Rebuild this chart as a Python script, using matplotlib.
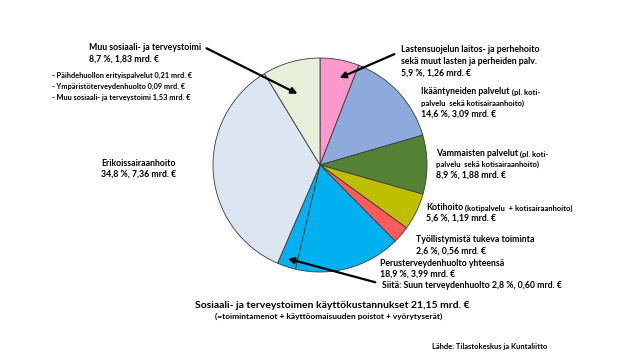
import matplotlib

matplotlib.use("Agg")
import matplotlib.pyplot as plt

plt.rcParams["font.family"] = ["Lato", "DejaVu Sans"]

# shares (%) clockwise from 12 o'clock
categories = [
    "Lastensuojelu",
    "Ikääntyneiden palvelut",
    "Vammaisten palvelut",
    "Kotihoito",
    "Työllistymistä tukeva toiminta",
    "Perusterveydenhuolto",
    "Erikoissairaanhoito",
    "Muu sosiaali- ja terveystoimi",
]
shares = [5.9, 14.6, 8.9, 5.6, 2.6, 18.9, 34.8, 8.7]
suun_share = 2.8  # part of Perusterveydenhuolto
colors = ["#FF99CC", "#8EA9DB", "#548235", "#BFBF00", "#FF5B5B", "#00B0F0", "#DCE6F2", "#E6EFDA"]

# split Perusterveydenhuolto so the inner divider line shows
wedge_vals = []
wedge_cols = []
for name, s, c in zip(categories, shares, colors):
    if name == "Perusterveydenhuolto":
        wedge_vals += [s - suun_share, suun_share]
        wedge_cols += [c, c]
    else:
        wedge_vals.append(s)
        wedge_cols.append(c)

W, H = 640, 360
fig = plt.figure(figsize=(6.4, 3.6), dpi=100)
ax = fig.add_axes([0, 0, 1, 1])


def Y(y):
    return H - y


ax.pie(wedge_vals, colors=wedge_cols, startangle=90, counterclock=False,
       center=(320, Y(165)), radius=107, frame=True,
       wedgeprops=dict(edgecolor="#3a3a3a", linewidth=0.6))
ax.set_xlim(0, W)
ax.set_ylim(0, H)
ax.axis("off")


def txt(x, y, s, size=6.3, **kw):
    return ax.text(x, Y(y), s, fontsize=size, fontweight="bold", va="center", ha="left", **kw)


def txt2(x, y, big, small, size=6.3, small_size=5.5):
    t = txt(x, y, big, size)
    ax.annotate(small, xy=(1, 0), xycoords=t, fontsize=small_size, fontweight="bold",
                va="bottom", ha="left")
    return t


arrow = dict(arrowstyle="-|>", color="black", lw=1.6, mutation_scale=9)

# Muu sosiaali- ja terveystoimi
txt(89, 47, "Muu sosiaali- ja terveystoimi")
txt(89, 59, "8,7 %, 1,83 mrd. €")
ax.annotate("", xy=(300, Y(95)), xytext=(204, Y(47)), arrowprops=arrow)
txt(52, 75, "- Päihdehuollon erityispalvelut 0,21 mrd. €", 5.3)
txt(52, 86, "- Ympäristöterveydenhuolto 0,09 mrd. €", 5.3)
txt(52, 97, "- Muu sosiaali- ja terveystoimi 1,53 mrd. €", 5.3)

# Lastensuojelu
txt(401, 49, "Lastensuojelun laitos- ja perhehoito")
txt(401, 61, "sekä muut lasten ja perheiden palv.")
txt(401, 73, "5,9 %, 1,26 mrd. €")
ax.annotate("", xy=(337, Y(79)), xytext=(397, Y(53)), arrowprops=arrow)

# Ikääntyneiden
txt2(421, 92, "Ikääntyneiden palvelut", " (pl. koti-")
txt(421, 103, "palvelu  sekä kotisairaanhoito)", 5.5)
txt(421, 114, "14,6 %, 3,09 mrd. €")

# Vammaisten
txt2(436, 153, "Vammaisten palvelut", " (pl. koti-")
txt(436, 164, "palvelu  sekä kotisairaanhoito)", 5.5)
txt(436, 175, "8,9 %, 1,88 mrd. €")

# Kotihoito
txt2(426, 207, "Kotihoito", " (kotipalvelu  + kotisairaanhoito)")
txt(426, 218, "5,6 %, 1,19 mrd. €")

# Työllistymistä
txt(416, 240, "Työllistymistä tukeva toiminta")
txt(416, 251, "2,6 %, 0,56 mrd. €")

# Perusterveydenhuolto
txt(380, 263, "Perusterveydenhuolto yhteensä")
txt(380, 274, "18,9 %, 3,99 mrd. €")
txt(382, 285, "Siitä: Suun terveydenhuolto 2,8 %, 0,60 mrd. €")
ax.annotate("", xy=(285, Y(258)), xytext=(378, Y(283)), arrowprops=arrow)

# Erikoissairaanhoito
txt(101, 163, "Erikoissairaanhoito")
txt(101, 174, "34,8 %, 7,36 mrd. €")

# title + footer
txt(195, 305, "Sosiaali- ja terveystoimen käyttökustannukset 21,15 mrd. €", 7.5)
txt(215, 316, "(=toimintamenot + käyttöomaisuuden poistot + vyörytyserät)", 6.0)
txt(432, 347, "Lähde: Tilastokeskus ja Kuntaliitto", 5.4)

fig.savefig("out.png", dpi=100)
